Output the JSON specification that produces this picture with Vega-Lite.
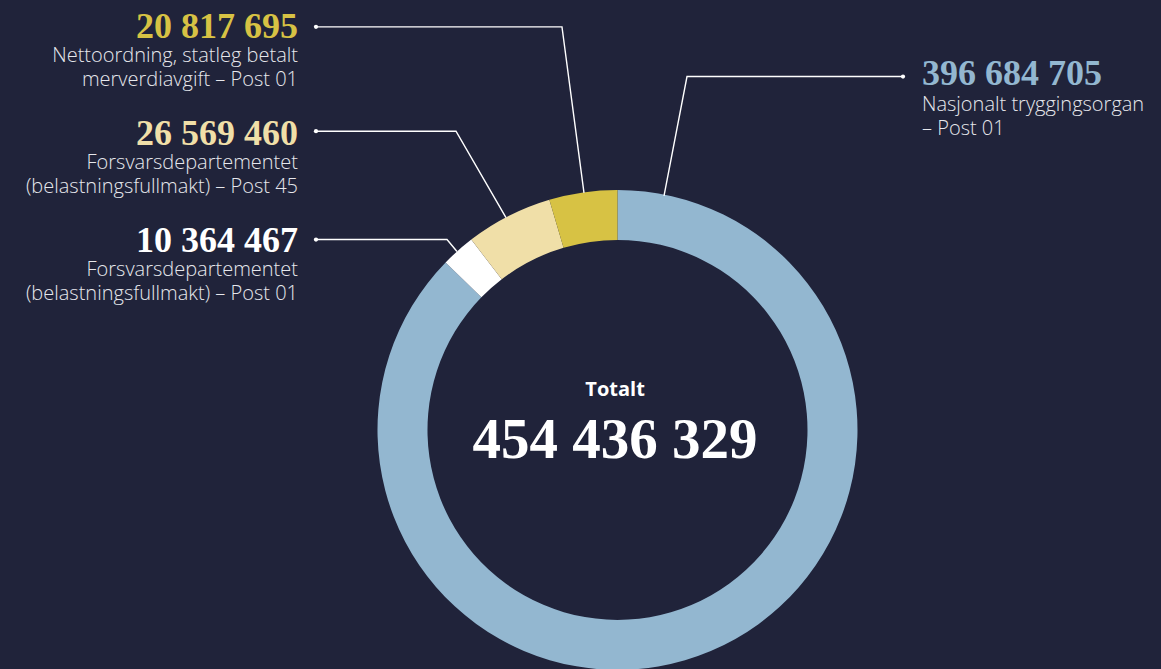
{
  "$schema": "https://vega.github.io/schema/vega-lite/v6.json",
  "width": 1161,
  "height": 669,
  "autosize": {"type": "fit", "contains": "padding"},
  "padding": 0,
  "background": "#20233a",
  "config": {
    "view": {"stroke": null},
    "locale": {"number": {"decimal": ",", "thousands": " ", "grouping": [3], "currency": ["", " kr"]}}
  },
  "datasets": {
    "slices": [
      {"key": "NTO", "value": 396684705, "ord": 1},
      {"key": "FD01", "value": 10364467, "ord": 2},
      {"key": "FD45", "value": 26569460, "ord": 3},
      {"key": "NETTO", "value": 20817695, "ord": 4}
    ],
    "leaders": [
      {"key": "NETTO", "pt": 1, "x": -13.96, "y": 99.38},
      {"key": "NETTO", "pt": 2, "x": -23.13, "y": 168.96},
      {"key": "NETTO", "pt": 3, "x": -125.63, "y": 168.96},
      {"key": "FD45", "pt": 1, "x": -46.46, "y": 88.96},
      {"key": "FD45", "pt": 2, "x": -67.29, "y": 125.21},
      {"key": "FD45", "pt": 3, "x": -125.63, "y": 125.21},
      {"key": "FD01", "pt": 1, "x": -66.88, "y": 74.79},
      {"key": "FD01", "pt": 2, "x": -71.04, "y": 79.79},
      {"key": "FD01", "pt": 3, "x": -125.63, "y": 79.79},
      {"key": "NTO", "pt": 1, "x": 19.38, "y": 98.13},
      {"key": "NTO", "pt": 2, "x": 28.96, "y": 148.13},
      {"key": "NTO", "pt": 3, "x": 118.96, "y": 148.13}
    ],
    "labels": [
      {"key": "NETTO", "side": "left", "value": 20817695, "desc": "Nettoordning, statleg betalt\nmerverdiavgift – Post 01", "x": -133.13, "yNum": 164.38, "yDesc": 154.38},
      {"key": "FD45", "side": "left", "value": 26569460, "desc": "Forsvarsdepartementet\n(belastningsfullmakt) – Post 45", "x": -133.13, "yNum": 119.38, "yDesc": 109.38},
      {"key": "FD01", "side": "left", "value": 10364467, "desc": "Forsvarsdepartementet\n(belastningsfullmakt) – Post 01", "x": -133.13, "yNum": 74.38, "yDesc": 64.38},
      {"key": "NTO", "side": "right", "value": 396684705, "desc": "Nasjonalt tryggingsorgan\n– Post 01", "x": 126.88, "yNum": 144.38, "yDesc": 133.54}
    ],
    "total": [
      {"label": "Totalt", "total": 454436329, "x": -1.0, "yLabel": 14.38, "yNum": -11.88}
    ]
  },
  "layer": [
    {
      "data": {"name": "slices"},
      "mark": {"type": "arc", "outerRadius": 240, "innerRadius": 190},
      "encoding": {
        "theta": {"field": "value", "type": "quantitative", "stack": true},
        "order": {"field": "ord", "type": "quantitative"},
        "color": {"field": "key", "type": "nominal", "legend": null,
          "scale": {"domain": ["NTO", "FD01", "FD45", "NETTO"], "range": ["#93b7d0", "#ffffff", "#f0dfa8", "#d7c244"]}},
        "x": {"datum": 0, "type": "quantitative", "axis": null, "scale": {"domain": [-257.29, 226.46], "nice": false, "zero": false}},
        "y": {"datum": 0, "type": "quantitative", "axis": null, "scale": {"domain": [-98.54, 180.21], "nice": false, "zero": false}}
      }
    },
    {
      "data": {"name": "leaders"},
      "mark": {"type": "line", "color": "#ffffff", "strokeWidth": 1.4},
      "encoding": {
        "x": {"field": "x", "type": "quantitative", "axis": null, "scale": {"domain": [-257.29, 226.46], "nice": false, "zero": false}},
        "y": {"field": "y", "type": "quantitative", "axis": null, "scale": {"domain": [-98.54, 180.21], "nice": false, "zero": false}},
        "detail": {"field": "key", "type": "nominal"},
        "order": {"field": "pt", "type": "quantitative"}
      }
    },
    {
      "data": {"name": "leaders"},
      "transform": [{"filter": "datum.pt == 3"}],
      "mark": {"type": "circle", "color": "#ffffff", "size": 18, "opacity": 1},
      "encoding": {
        "x": {"field": "x", "type": "quantitative", "axis": null, "scale": {"domain": [-257.29, 226.46], "nice": false, "zero": false}},
        "y": {"field": "y", "type": "quantitative", "axis": null, "scale": {"domain": [-98.54, 180.21], "nice": false, "zero": false}}
      }
    },
    {
      "data": {"name": "labels"},
      "transform": [{"filter": "datum.side == 'left'"}],
      "mark": {"type": "text", "align": "right", "baseline": "alphabetic", "font": "Liberation Serif", "fontWeight": "bold", "fontSize": 36},
      "encoding": {
        "x": {"field": "x", "type": "quantitative", "axis": null, "scale": {"domain": [-257.29, 226.46], "nice": false, "zero": false}},
        "y": {"field": "yNum", "type": "quantitative", "axis": null, "scale": {"domain": [-98.54, 180.21], "nice": false, "zero": false}},
        "text": {"field": "value", "type": "quantitative", "format": ",d"},
        "color": {"field": "key", "type": "nominal", "legend": null}
      }
    },
    {
      "data": {"name": "labels"},
      "transform": [{"filter": "datum.side == 'right'"}],
      "mark": {"type": "text", "align": "left", "baseline": "alphabetic", "font": "Liberation Serif", "fontWeight": "bold", "fontSize": 36},
      "encoding": {
        "x": {"field": "x", "type": "quantitative", "axis": null, "scale": {"domain": [-257.29, 226.46], "nice": false, "zero": false}},
        "y": {"field": "yNum", "type": "quantitative", "axis": null, "scale": {"domain": [-98.54, 180.21], "nice": false, "zero": false}},
        "text": {"field": "value", "type": "quantitative", "format": ",d"},
        "color": {"field": "key", "type": "nominal", "legend": null}
      }
    },
    {
      "data": {"name": "labels"},
      "transform": [{"filter": "datum.side == 'left'"}],
      "mark": {"type": "text", "align": "right", "baseline": "alphabetic", "font": "Open Sans", "fontWeight": 300, "fontSize": 20, "lineBreak": "\n", "lineHeight": 24, "color": "#e6e7ec"},
      "encoding": {
        "x": {"field": "x", "type": "quantitative", "axis": null, "scale": {"domain": [-257.29, 226.46], "nice": false, "zero": false}},
        "y": {"field": "yDesc", "type": "quantitative", "axis": null, "scale": {"domain": [-98.54, 180.21], "nice": false, "zero": false}},
        "text": {"field": "desc", "type": "nominal"}
      }
    },
    {
      "data": {"name": "labels"},
      "transform": [{"filter": "datum.side == 'right'"}],
      "mark": {"type": "text", "align": "left", "baseline": "alphabetic", "font": "Open Sans", "fontWeight": 300, "fontSize": 20, "lineBreak": "\n", "lineHeight": 24, "color": "#e6e7ec"},
      "encoding": {
        "x": {"field": "x", "type": "quantitative", "axis": null, "scale": {"domain": [-257.29, 226.46], "nice": false, "zero": false}},
        "y": {"field": "yDesc", "type": "quantitative", "axis": null, "scale": {"domain": [-98.54, 180.21], "nice": false, "zero": false}},
        "text": {"field": "desc", "type": "nominal"}
      }
    },
    {
      "data": {"name": "total"},
      "mark": {"type": "text", "align": "center", "baseline": "alphabetic", "font": "Open Sans", "fontWeight": "bold", "fontSize": 20, "color": "#ffffff"},
      "encoding": {
        "x": {"field": "x", "type": "quantitative", "axis": null, "scale": {"domain": [-257.29, 226.46], "nice": false, "zero": false}},
        "y": {"field": "yLabel", "type": "quantitative", "axis": null, "scale": {"domain": [-98.54, 180.21], "nice": false, "zero": false}},
        "text": {"field": "label", "type": "nominal"}
      }
    },
    {
      "data": {"name": "total"},
      "mark": {"type": "text", "align": "center", "baseline": "alphabetic", "font": "Liberation Serif", "fontWeight": "bold", "fontSize": 57, "color": "#ffffff"},
      "encoding": {
        "x": {"field": "x", "type": "quantitative", "axis": null, "scale": {"domain": [-257.29, 226.46], "nice": false, "zero": false}},
        "y": {"field": "yNum", "type": "quantitative", "axis": null, "scale": {"domain": [-98.54, 180.21], "nice": false, "zero": false}},
        "text": {"field": "total", "type": "quantitative", "format": ",d"}
      }
    }
  ]
}
